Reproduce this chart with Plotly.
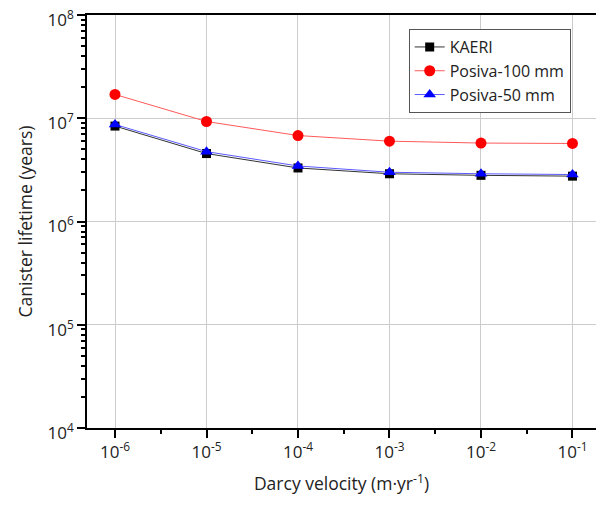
import plotly.graph_objects as go

darcy = [1e-6, 1e-5, 1e-4, 1e-3, 1e-2, 1e-1]
kaeri = [8.4e6, 4.55e6, 3.3e6, 2.9e6, 2.8e6, 2.75e6]
posiva100 = [1.7e7, 9.3e6, 6.8e6, 6.0e6, 5.75e6, 5.7e6]
posiva50 = [8.7e6, 4.75e6, 3.45e6, 3.0e6, 2.9e6, 2.85e6]

x_tickvals = darcy
x_ticktext = ["10<sup>-6</sup>", "10<sup>-5</sup>", "10<sup>-4</sup>",
              "10<sup>-3</sup>", "10<sup>-2</sup>", "10<sup>-1</sup>"]
y_tickvals = [1e4, 1e5, 1e6, 1e7, 1e8]
y_ticktext = ["10<sup>4</sup>", "10<sup>5</sup>", "10<sup>6</sup>",
              "10<sup>7</sup>", "10<sup>8</sup>"]

x_minor = [10 ** (e + 0.5) for e in range(-7, 0)]
y_minor = [m * 10 ** e for e in range(4, 8) for m in range(2, 10)]

font = "Open Sans, Noto Sans, sans-serif"

fig = go.Figure()
fig.add_trace(go.Scatter(x=darcy, y=kaeri, name="KAERI", mode="lines+markers",
                         line=dict(color="#333333", width=1),
                         marker=dict(symbol="square", size=9, color="black")))
fig.add_trace(go.Scatter(x=darcy, y=posiva100, name="Posiva-100 mm", mode="lines+markers",
                         line=dict(color="#ff5a5a", width=1),
                         marker=dict(symbol="circle", size=11, color="#ff0000")))
fig.add_trace(go.Scatter(x=darcy, y=posiva50, name="Posiva-50 mm", mode="lines+markers",
                         line=dict(color="#5a5aff", width=1),
                         marker=dict(symbol="triangle-up", size=11, color="#0000ff")))

axis_common = dict(showline=True, linecolor="black", linewidth=1.5, mirror=True,
                   showgrid=True, gridcolor="#cccccc", gridwidth=1,
                   ticks="outside", ticklen=8, tickwidth=1.5, tickcolor="black",
                   zeroline=False, automargin=False, ticklabeloverflow="allow",
                   tickfont=dict(size=17, color="#222222", family=font))

fig.update_xaxes(type="log", range=[-6.306, -0.743], tickmode="array",
                 tickvals=x_tickvals, ticktext=x_ticktext,
                 minor=dict(tickvals=x_minor, ticks="outside", ticklen=4,
                            tickcolor="black", tickwidth=1.5, showgrid=False),
                 title=dict(text="Darcy velocity (m·yr<sup>-1</sup>)",
                            font=dict(size=17.5, color="#222222", family=font), standoff=16),
                 **axis_common)
fig.update_yaxes(type="log", range=[4, 8], tickmode="array",
                 tickvals=y_tickvals, ticktext=y_ticktext, ticklabelshift=5,
                 minor=dict(tickvals=y_minor, ticks="outside", ticklen=4,
                            tickcolor="black", tickwidth=1.5, showgrid=False),
                 title=dict(text="Canister lifetime (years)",
                            font=dict(size=17.5, color="#222222", family=font), standoff=10),
                 **axis_common)

fig.update_layout(
    width=588, height=491,
    margin=dict(l=79, r=0, t=7, b=71),
    plot_bgcolor="white", paper_bgcolor="white",
    font=dict(family=font, color="#222222"),
    legend=dict(x=0.632, y=0.966, xanchor="left", yanchor="top",
                bgcolor="white", bordercolor="#555555", borderwidth=1,
                font=dict(size=16, family=font, color="#222222"),
                tracegroupgap=0, itemwidth=30),
)

fig.write_html("out.html")
